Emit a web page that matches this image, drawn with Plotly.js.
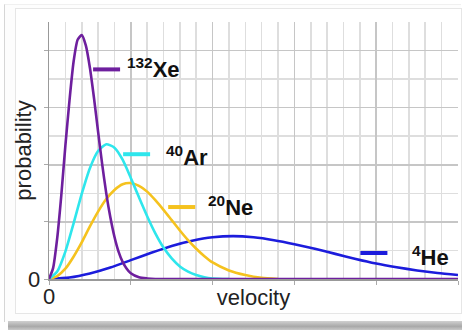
<!DOCTYPE html>
<html>
<head>
<meta charset="utf-8">
<script src="https://cdn.plot.ly/plotly-3.0.1.min.js"></script>
<style>
  body { margin:0; background:#ffffff; width:462px; height:330px; overflow:hidden; position:relative; }
  #outer { position:absolute; left:4px; top:4px; width:456px; height:317px; background:#fdfdfd; border-left:1px solid #d6d6d6; border-top:1px solid #f0f0f0; }
  #shadow { position:absolute; left:8px; top:321px; width:454px; height:9px; background:linear-gradient(to bottom,#d0d0d0,#a9a9a9 60%,#c8c8c8); }
  #inner { position:absolute; left:15px; top:8px; width:445px; height:304px; border:1px solid #e6e6e6; background:#ffffff; }
  #chart { position:absolute; left:0; top:0; width:462px; height:330px; }
</style>
</head>
<body>
<div id="outer"></div>
<div id="shadow"></div>
<div id="inner"></div>
<div id="chart"></div>
<script>
// velocity (arbitrary units) and probability values
const xeVelocity = [0,0.05,0.1,0.15,0.2,0.25,0.3,0.35,0.4,0.45,0.5,0.55,0.6,0.65,0.7,0.75,0.8,0.85,0.9,0.95,1.0,1.1,1.2,1.3,1.4,2,3,4,5];
const xeProb     = [0,0.19,0.71,1.46,2.33,3.12,3.80,4.19,4.27,4.09,3.70,3.17,2.58,2.01,1.50,1.08,0.74,0.48,0.30,0.18,0.10,0.03,0.01,0,0,0,0,0,0];

const arVelocity = [0,0.1,0.2,0.3,0.4,0.5,0.6,0.7,0.8,0.9,1.0,1.1,1.2,1.3,1.4,1.5,1.6,1.7,1.8,1.9,2.0,2.2];
const arProb     = [0,0.13,0.48,0.97,1.49,1.94,2.24,2.36,2.30,2.09,1.77,1.43,1.10,0.80,0.55,0.36,0.22,0.13,0.07,0.03,0.01,0];

const neVelocity = [0,0.1,0.2,0.3,0.4,0.5,0.6,0.7,0.8,0.9,1.0,1.1,1.2,1.3,1.4,1.5,1.6,1.7,1.8,1.9,2.0,2.2,2.4,2.6,2.8];
const neProb     = [0,0.05,0.18,0.39,0.64,0.92,1.18,1.40,1.56,1.66,1.68,1.63,1.53,1.38,1.21,1.03,0.85,0.68,0.53,0.40,0.29,0.15,0.07,0.02,0];

const heVelocity = [0,0.25,0.5,0.75,1.0,1.25,1.5,1.75,2.0,2.25,2.5,2.75,3.0,3.25,3.5,3.75,4.0,4.25,4.5,4.75,5.0];
const heProb     = [0,0.025,0.096,0.20,0.33,0.46,0.58,0.67,0.73,0.75,0.73,0.68,0.61,0.53,0.44,0.35,0.27,0.205,0.15,0.105,0.07];

const gasLabels = ['<sup>132</sup>Xe','<sup>40</sup>Ar','<sup>20</sup>Ne','<sup>4</sup>He'];
const originLabel = '0';

const cXe = '#6e1f9e', cAr = '#2ee6ec', cNe = '#f5c21e', cHe = '#1c1cdc';
const FONT = 'Liberation Sans, Arial, sans-serif';

function tr(x, y, c) {
  return {x:x, y:y, type:'scatter', mode:'lines', line:{color:c, width:2.6, shape:'spline', smoothing:0.6}, hoverinfo:'skip', showlegend:false};
}
const data = [
  tr(heVelocity, heProb, cHe),
  tr(neVelocity, neProb, cNe),
  tr(arVelocity, arProb, cAr),
  tr(xeVelocity, xeProb, cXe)
];

function seg(x0, x1, y, c) {
  return {type:'line', xref:'x', yref:'y', x0:x0, x1:x1, y0:y, y1:y, line:{color:c, width:4}};
}
function lab(x, y, t) {
  return {x:x, y:y, xref:'x', yref:'y', text:t, showarrow:false, xanchor:'left', yanchor:'middle',
          font:{family:FONT, size:22, color:'#111', weight:'bold'}};
}

const layout = {
  width:462, height:330,
  margin:{l:49, r:4, t:22, b:51},
  paper_bgcolor:'rgba(0,0,0,0)',
  plot_bgcolor:'#ffffff',
  font:{family:FONT, color:'#222'},
  xaxis:{
    range:[0,5], tickmode:'linear', tick0:0, dtick:1, showticklabels:false,
    showgrid:true, gridcolor:'#c6c6c6', gridwidth:1.6,
    minor:{dtick:0.2, tick0:0, showgrid:true, gridcolor:'#dedede', gridwidth:1.6, ticks:''},
    showline:true, linecolor:'#999', linewidth:1.5,
    ticks:'outside', ticklen:4, tickcolor:'#aaa',
    zeroline:false, fixedrange:true,
    title:{text:'velocity', font:{family:FONT, size:22, color:'#222'}, standoff:6},
    automargin:false
  },
  yaxis:{
    range:[0,4.5], tickmode:'linear', tick0:0, dtick:1, showticklabels:false,
    showgrid:true, gridcolor:'#c6c6c6', gridwidth:1.6,
    minor:{dtick:0.5, tick0:0, showgrid:true, gridcolor:'#dedede', gridwidth:1.6, ticks:''},
    showline:true, linecolor:'#999', linewidth:1.5,
    ticks:'outside', ticklen:4, tickcolor:'#aaa',
    zeroline:false, fixedrange:true,
    title:{text:'probability', font:{family:FONT, size:22, color:'#222'}, standoff:6},
    automargin:false
  },
  shapes:[
    seg(0.539, 0.869, 3.67, cXe),
    seg(0.906, 1.236, 2.185, cAr),
    seg(1.457, 1.787, 1.26, cNe),
    seg(3.807, 4.137, 0.455, cHe)
  ],
  annotations:[
    lab(0.93, 3.69, gasLabels[0]),
    lab(1.41, 2.15, gasLabels[1]),
    lab(1.92, 1.28, gasLabels[2]),
    lab(4.41, 0.40, gasLabels[3]),
    {x:-0.0367, y:0, xref:'paper', yref:'y', text:originLabel, showarrow:false, xanchor:'center', yanchor:'middle',
     font:{family:FONT, size:22, color:'#222'}},
    {x:0, y:-0.07, xref:'x', yref:'paper', text:originLabel, showarrow:false, xanchor:'center', yanchor:'middle',
     font:{family:FONT, size:22, color:'#222'}}
  ]
};

Plotly.newPlot('chart', data, layout, {staticPlot:true, displayModeBar:false});
</script>
</body>
</html>
